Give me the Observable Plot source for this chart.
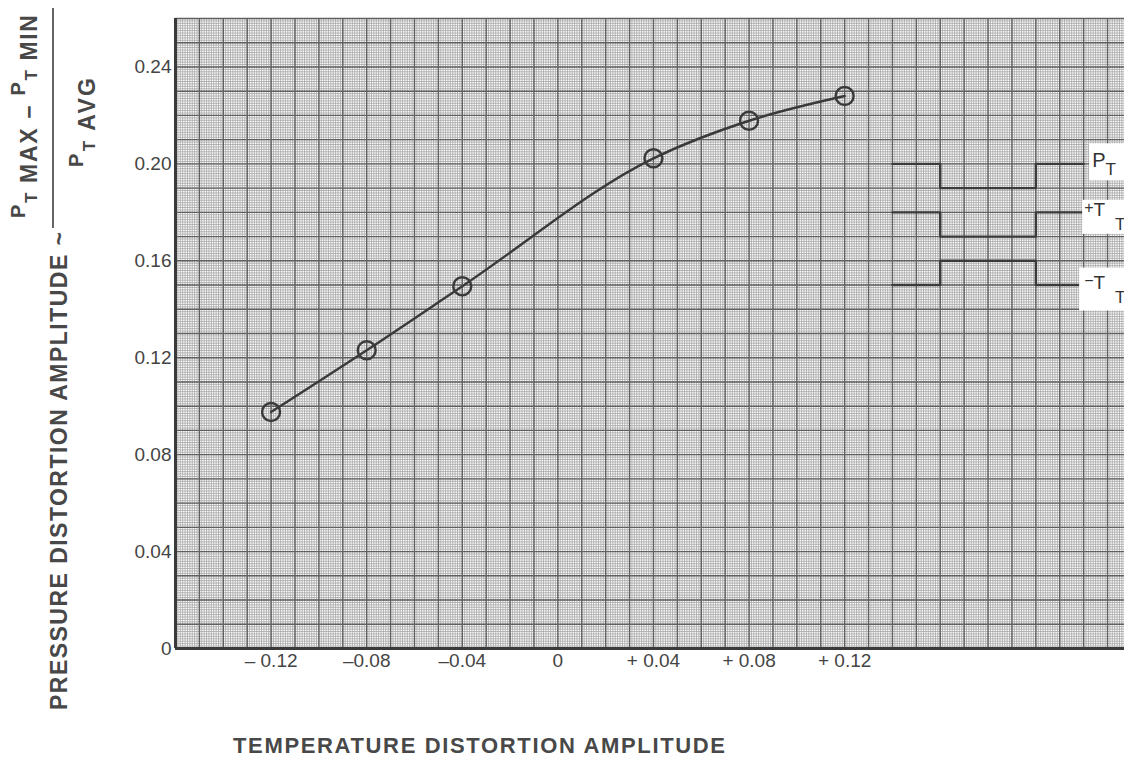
<!DOCTYPE html>
<html>
<head>
<meta charset="utf-8">
<script src="https://cdn.jsdelivr.net/npm/d3@7"></script>
<script src="https://cdn.jsdelivr.net/npm/@observablehq/plot@0.6"></script>
<style>
  html, body { margin: 0; padding: 0; background: #fff; }
  #chart { width: 1124px; height: 758px; overflow: hidden; }
</style>
</head>
<body>
<div id="chart"></div>
<script>
// ---- data ----
const tempAmplitude = [-0.12, -0.08, -0.04, 0.04, 0.08, 0.12];
const pressAmplitude = [0.0976, 0.1231, 0.1495, 0.2023, 0.2178, 0.2280];

const xTicks = [-0.12, -0.08, -0.04, 0, 0.04, 0.08, 0.12];
const xTickLabels = ["\u2013 0.12", "\u20130.08", "\u20130.04", "0", "+ 0.04", "+ 0.08", "+ 0.12"];
const yTicks = [0, 0.04, 0.08, 0.12, 0.16, 0.20, 0.24];
const yTickLabels = ["0", "0.04", "0.08", "0.12", "0.16", "0.20", "0.24"];

// schematic waveforms (legend)
const waveX = [0.14, 0.16, 0.20, 0.22];
const waveSigns = ["", "+", "\u2212"];
const waveNames = ["P", "T", "T"];
const waveLevels = [
  [0.20, 0.19, 0.20, 0.20],
  [0.18, 0.17, 0.18, 0.18],
  [0.15, 0.16, 0.15, 0.15]
];

const xTitle = "TEMPERATURE DISTORTION AMPLITUDE";
const yTitle = "PRESSURE DISTORTION AMPLITUDE ~";

// ---- derived tables ----
const points = tempAmplitude.map((x, i) => ({x, y: pressAmplitude[i]}));
const waves = waveLevels.flatMap((lv, k) => waveX.map((x, i) => ({k, x, y: lv[i]})));

const xDomain = [-0.16, 0.2371];
const yDomain = [0, 0.26];
const minorX = d3.range(-160, 238).map(i => i / 1000);
const minorY = d3.range(0, 261).map(i => i / 1000);
const majorX = d3.range(-16, 24).map(i => i / 100);
const majorY = d3.range(0, 27).map(i => i / 100);

const ink = "#3a3a3a";
const font = "'Liberation Sans', Arial, sans-serif";

const chart = Plot.plot({
  width: 1124,
  height: 758,
  marginLeft: 175,
  marginRight: 0,
  marginTop: 18,
  marginBottom: 110,
  x: {domain: xDomain, label: null},
  y: {domain: yDomain, label: null},
  style: {fontFamily: font, fontSize: "19px", color: "#444", background: "#fff"},
  marks: [
    Plot.ruleX(minorX, {stroke: "#a0a0a0", strokeWidth: 0.75}),
    Plot.ruleY(minorY, {stroke: "#a0a0a0", strokeWidth: 0.75}),
    Plot.ruleX(majorX, {stroke: "#606060", strokeWidth: 1.4}),
    Plot.ruleY(majorY, {stroke: "#606060", strokeWidth: 1.4}),
    Plot.ruleX([xDomain[0]], {stroke: ink, strokeWidth: 3}),
    Plot.ruleY([0], {stroke: ink, strokeWidth: 3}),
    Plot.line(points, {x: "x", y: "y", curve: "monotone-x", stroke: ink, strokeWidth: 2.4}),
    Plot.dot(points, {x: "x", y: "y", r: 9, stroke: ink, strokeWidth: 2.4, fill: "none"}),
    Plot.line(waves, {x: "x", y: "y", z: "k", curve: "step-after", stroke: ink, strokeWidth: 2.4}),
    Plot.axisX(xTicks, {tickSize: 0, tickPadding: 5, fontSize: 19,
      tickFormat: d => xTickLabels[xTicks.indexOf(d)], label: null}),
    Plot.axisY(yTicks, {tickSize: 0, tickPadding: 4, fontSize: 19,
      tickFormat: d => yTickLabels[yTicks.indexOf(d)], label: null})
  ]
});

document.getElementById("chart").appendChild(chart);

// ---- annotations: titles, fraction label, legend labels ----
const svg = d3.select(chart);
const sx = chart.scale("x"), sy = chart.scale("y");

// x title
svg.append("text")
  .attr("x", 233).attr("y", 753)
  .attr("text-anchor", "start")
  .attr("font-family", font).attr("font-size", 22).attr("font-weight", "bold")
  .attr("fill", "#484848")
  .attr("textLength", 492).attr("lengthAdjust", "spacing")
  .text(xTitle);

// y title (rotated)
svg.append("text")
  .attr("transform", "translate(67,710) rotate(-90)")
  .attr("text-anchor", "start")
  .attr("font-family", font).attr("font-size", 23).attr("font-weight", "bold")
  .attr("fill", "#484848")
  .attr("textLength", 478).attr("lengthAdjust", "spacing")
  .text(yTitle);

// fraction: numerator / bar / denominator
const num = svg.append("text")
  .attr("transform", "translate(37,218) rotate(-90)")
  .attr("text-anchor", "start")
  .attr("font-family", font).attr("font-weight", "bold").attr("fill", "#484848")
  .attr("textLength", 203).attr("lengthAdjust", "spacing");
num.append("tspan").attr("font-size", 20).attr("dy", -12).text("P");
num.append("tspan").attr("font-size", 17).attr("dy", 12).text("T");
num.append("tspan").attr("font-size", 23).text(" MAX \u2212 ");
num.append("tspan").attr("font-size", 20).attr("dy", -12).text("P");
num.append("tspan").attr("font-size", 17).attr("dy", 12).text("T");
num.append("tspan").attr("font-size", 23).text(" MIN");

svg.append("line")
  .attr("x1", 53).attr("x2", 53).attr("y1", 8).attr("y2", 228)
  .attr("stroke", "#555").attr("stroke-width", 1.8);

const den = svg.append("text")
  .attr("transform", "translate(95,167) rotate(-90)")
  .attr("text-anchor", "start")
  .attr("font-family", font).attr("font-weight", "bold").attr("fill", "#484848")
  .attr("textLength", 89).attr("lengthAdjust", "spacing");
den.append("tspan").attr("font-size", 20).attr("dy", -12).text("P");
den.append("tspan").attr("font-size", 17).attr("dy", 12).text("T");
den.append("tspan").attr("font-size", 23).text(" AVG");

// legend labels with white boxes
const lx = sx.apply(waveX[waveX.length - 1]);
const boxes = [[6, -20, 17], [-1, -12, 22], [-4, -17, 26]];
waveNames.forEach((name, k) => {
  const yv = sy.apply(waveLevels[k][0]);
  const [bx, by0, by1] = boxes[k];
  svg.append("rect")
    .attr("x", lx + bx).attr("y", yv + by0)
    .attr("width", 1124 - lx - bx).attr("height", by1 - by0)
    .attr("fill", "#fff");
  const t = svg.append("text")
    .attr("text-anchor", "start")
    .attr("font-family", font).attr("fill", "#333");
  if (waveSigns[k]) {
    t.attr("x", lx + 1).attr("y", yv + 1);
    t.append("tspan").attr("font-size", 16).text(waveSigns[k]);
    t.append("tspan").attr("font-size", 19).attr("dy", 3).text(name);
    t.append("tspan").attr("font-size", 17).attr("dx", 10).attr("dy", 14).text("T");
  } else {
    t.attr("x", lx + 9).attr("y", yv + 4);
    t.append("tspan").attr("font-size", 20).text(name);
    t.append("tspan").attr("font-size", 17).attr("dy", 8).text("T");
  }
});
</script>
</body>
</html>
